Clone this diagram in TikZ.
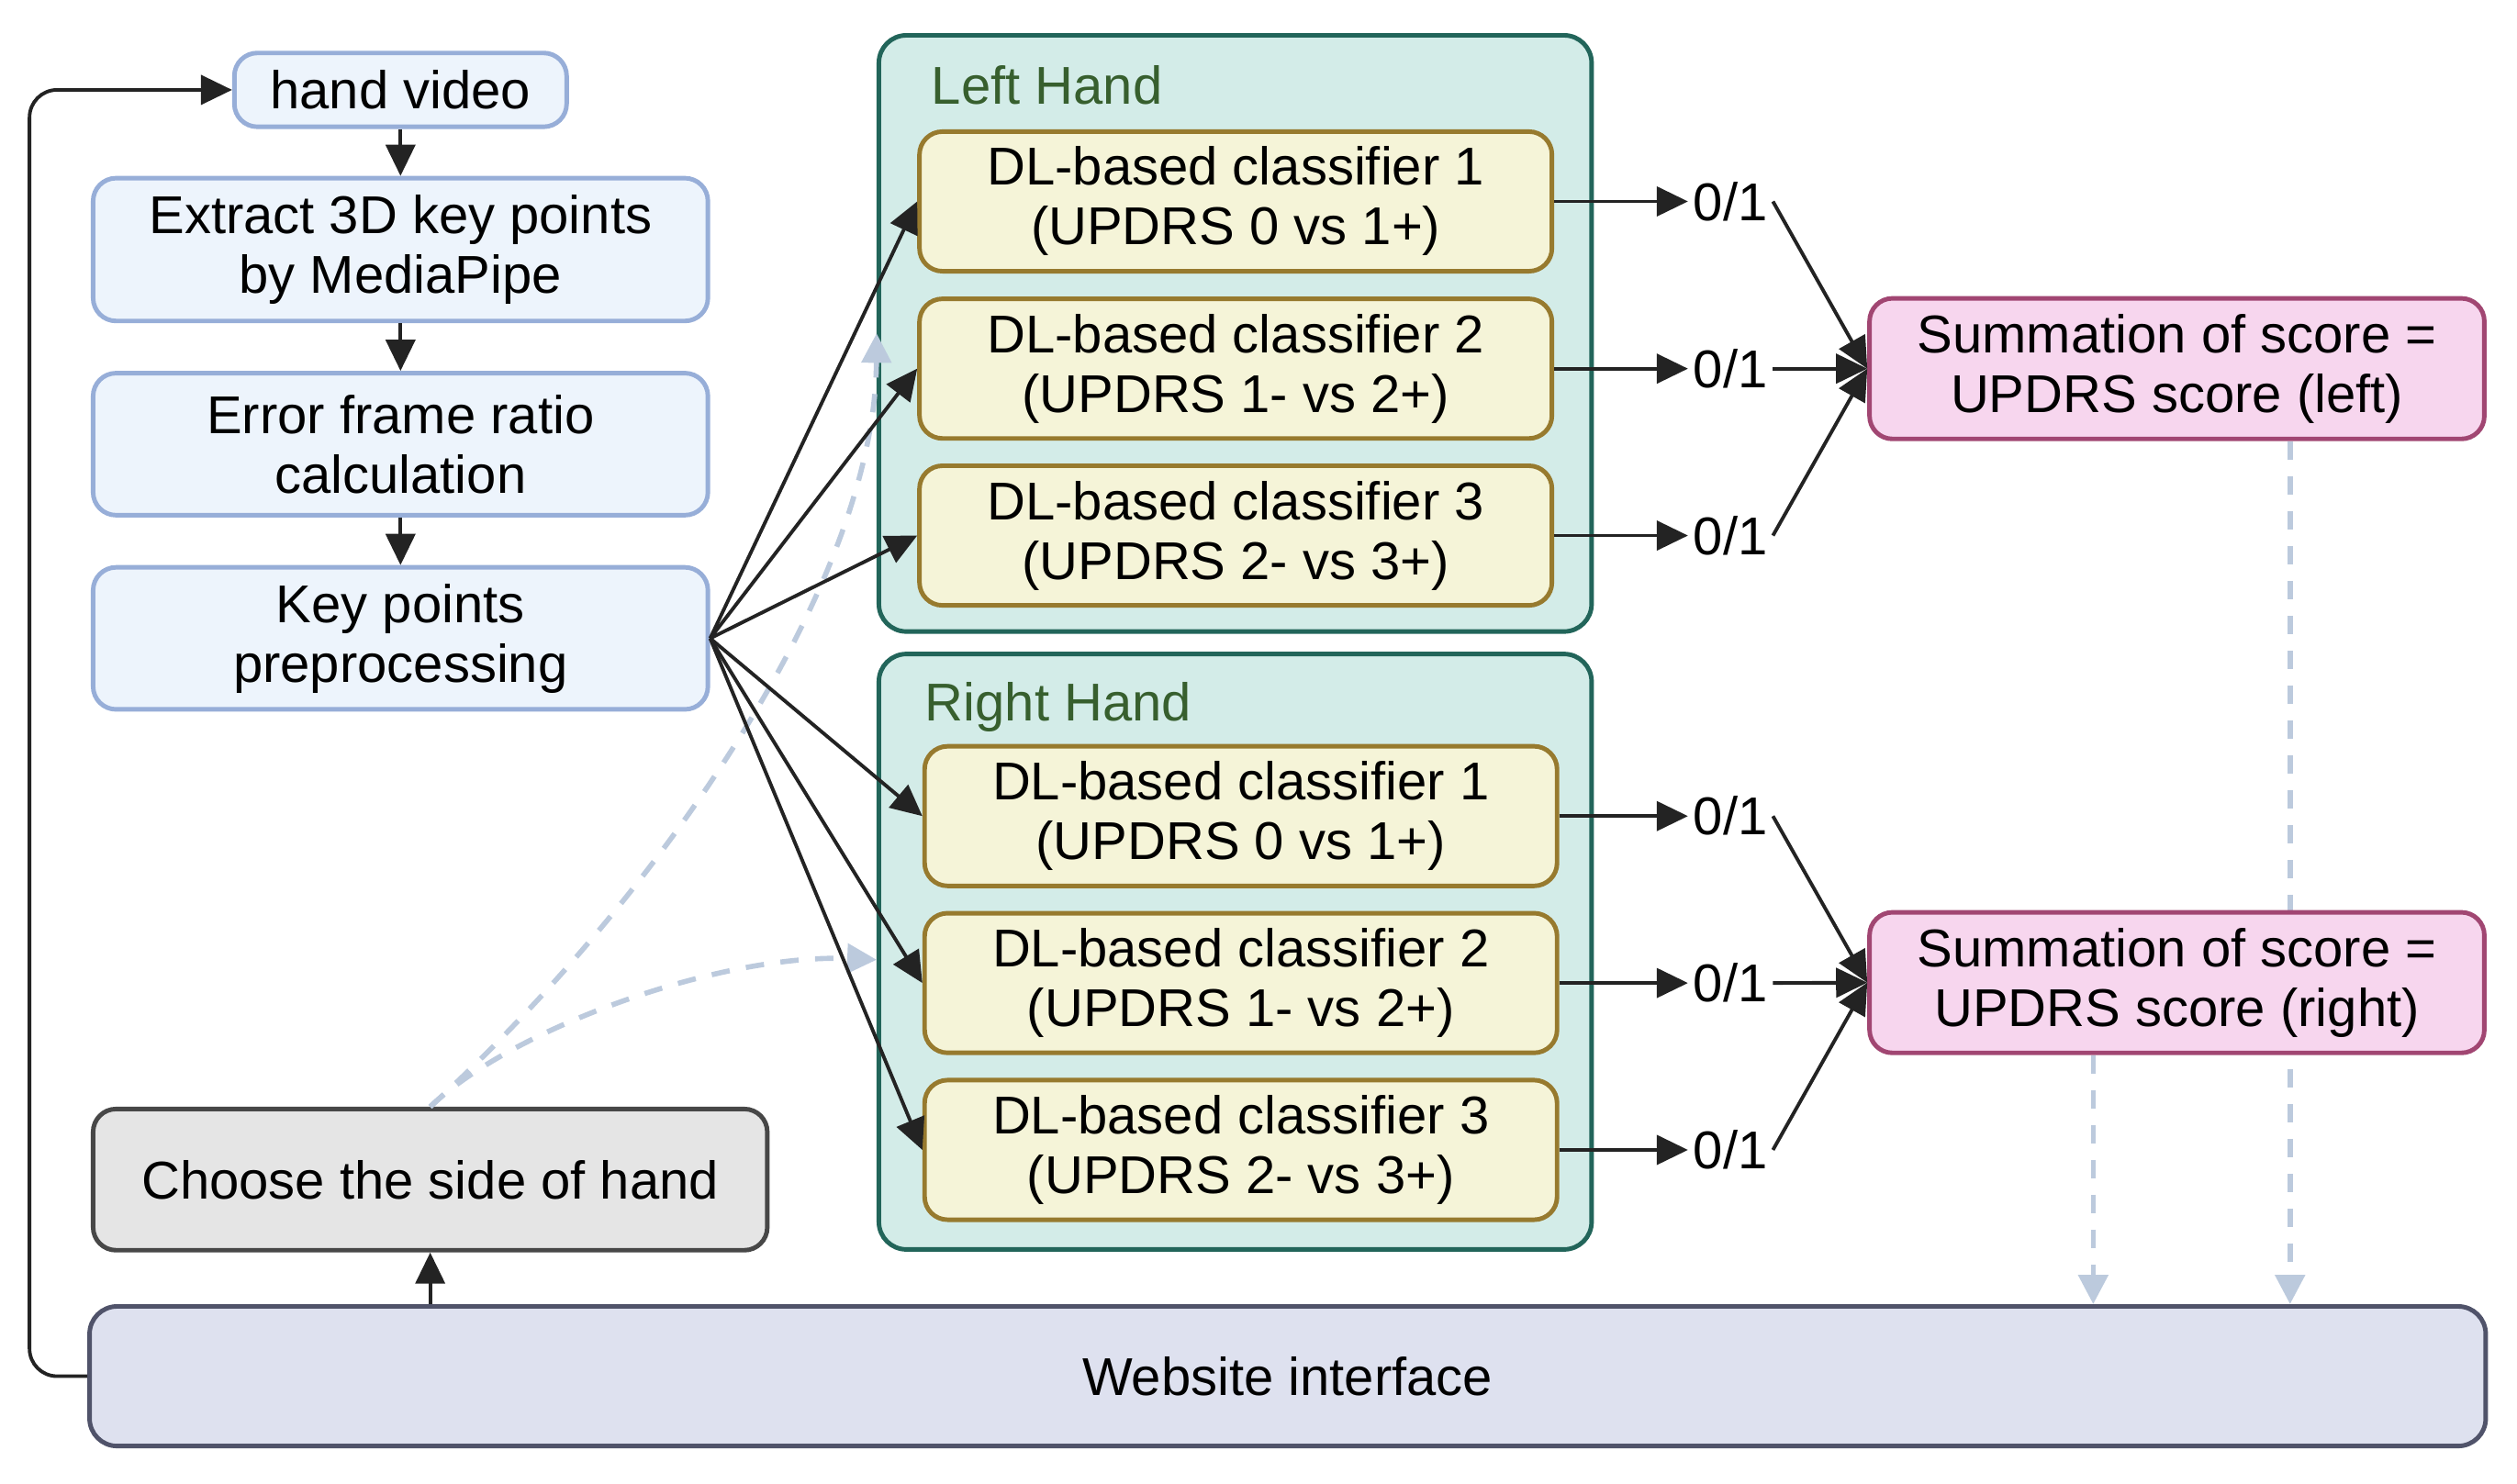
\documentclass[tikz,border=0pt]{standalone}
\usepackage{fontspec}
\setmainfont{Liberation Sans}
\usetikzlibrary{arrows.meta,calc}
\definecolor{blueF}{HTML}{EDF4FC}
\definecolor{blueB}{HTML}{97AED8}
\definecolor{contF}{HTML}{D3ECE8}
\definecolor{contB}{HTML}{22655A}
\definecolor{titleC}{HTML}{375F2E}
\definecolor{clsF}{HTML}{F5F4D8}
\definecolor{clsB}{HTML}{977A2E}
\definecolor{sumF}{HTML}{F7D6EE}
\definecolor{sumB}{HTML}{A14672}
\definecolor{chF}{HTML}{E5E5E5}
\definecolor{chB}{HTML}{474747}
\definecolor{webF}{HTML}{DEE1EF}
\definecolor{webB}{HTML}{50536A}
\definecolor{dashC}{HTML}{BCCADD}
\definecolor{arrC}{HTML}{232323}
\begin{document}
\begin{tikzpicture}[x=0.017487cm,y=-0.017487cm,
  every node/.style={font=\fontsize{16.5}{18.5}\selectfont},
  sz/.style 2 args={minimum width=#1*0.017487cm, minimum height=#2*0.017487cm},
  box/.style={rounded corners=0.25cm, line width=1.4pt, inner sep=0pt, align=center},
  bluebox/.style={box, draw=blueB, fill=blueF},
  contbox/.style={box, rounded corners=0.3cm, draw=contB, fill=contF},
  clsbox/.style={box, draw=clsB, fill=clsF, sz={394}{87}},
  sumbox/.style={box, draw=sumB, fill=sumF, sz={383}{87.6}},
  chbox/.style={box, draw=chB, fill=chF},
  webbox/.style={box, rounded corners=0.3cm, draw=webB, fill=webF},
  ttl/.style={text=titleC, inner sep=0pt, anchor=base west},
  zlab/.style={inner sep=1.5pt},
  arr/.style={draw=arrC, line width=1.1pt, -{Triangle[length=0.34cm,width=0.32cm]}},
  darr/.style={draw=dashC, line width=1.6pt, dash pattern=on 0.2cm off 0.18cm,
    -{Triangle[length=0.32cm,width=0.32cm,fill=dashC]}},
]
\useasboundingbox (0,0) rectangle (1568,924.1);

% left column
\node[bluebox, sz={207}{46}] (hv) at (249.5,56) {hand video};
\node[bluebox, sz={383}{89}] (ex) at (249.5,155.5) {Extract 3D key points\\by MediaPipe};
\node[bluebox, sz={383}{88.5}] (er) at (249.5,276.75) {Error frame ratio\\calculation};
\node[bluebox, sz={383}{88.5}] (kp) at (249.5,397.75) {Key points\\preprocessing};
\node[chbox, sz={420}{88}] (ch) at (268,735) {Choose the side of hand};
\node[webbox, sz={1492.7}{87}] (web) at (802.15,857.5) {Website interface};

% containers
\node[contbox, sz={444}{371.5}] (lh) at (769.5,207.75) {};
\node[contbox, sz={444}{371}] (rh) at (769.5,593) {};
\node[ttl] (lht) at (580,65) {Left Hand};
\node[ttl] (rht) at (576,449) {Right Hand};

% classifiers
\node[clsbox] (l1) at (769.8,125.5) {DL-based classifier 1\\(UPDRS 0 vs 1+)};
\node[clsbox] (l2) at (769.8,229.7) {DL-based classifier 2\\(UPDRS 1- vs 2+)};
\node[clsbox] (l3) at (769.8,333.7) {DL-based classifier 3\\(UPDRS 2- vs 3+)};
\node[clsbox] (r1) at (773,508.5) {DL-based classifier 1\\(UPDRS 0 vs 1+)};
\node[clsbox] (r2) at (773,612.5) {DL-based classifier 2\\(UPDRS 1- vs 2+)};
\node[clsbox] (r3) at (773,716.5) {DL-based classifier 3\\(UPDRS 2- vs 3+)};

% 0/1 labels
\coordinate (zx) at (1078,0);
\node[zlab] (z1) at (l1 -| zx) {0/1};
\node[zlab] (z2) at (l2 -| zx) {0/1};
\node[zlab] (z3) at (l3 -| zx) {0/1};
\node[zlab] (z4) at (r1 -| zx) {0/1};
\node[zlab] (z5) at (r2 -| zx) {0/1};
\node[zlab] (z6) at (r3 -| zx) {0/1};

% summation boxes and dashed links
\coordinate (dA) at (1426.6,0);
\coordinate (dB) at (1304,0);
\node[sumbox] (sl) at (1356.15,229.7) {Summation of score =\\UPDRS score (left)};
\draw[darr] (sl.south -| dA) -- (web.north -| dA);
\node[sumbox] (sr) at (1356.15,612.25) {Summation of score =\\UPDRS score (right)};
\draw[darr] (sr.south -| dB) -- (web.north -| dB);

% flow arrows
\draw[arr] (hv) -- (ex);
\draw[arr] (ex) -- (er);
\draw[arr] (er) -- (kp);
\draw[arr] (web.north -| ch.south) -- (ch.south);
\draw[arr, rounded corners=0.3cm] (web.west) -- ++(-36,0) |- (hv.west);

% dashed curves from choose
\draw[darr] (ch.north) .. controls (400,570) and (545,370) .. (lh.west);
\draw[darr] (ch.north) .. controls (320,640) and (450,594) .. ([yshift=-5*0.017487cm]rh.west);

% preprocessing to classifiers
\foreach \c in {l1,l2,l3,r1,r2,r3} \draw[arr] (kp.east) -- (\c.west);

% classifiers to 0/1
\draw[arr] (l1.east) -- (z1.west);
\draw[arr] (l2.east) -- (z2.west);
\draw[arr] (l3.east) -- (z3.west);
\draw[arr] (r1.east) -- (z4.west);
\draw[arr] (r2.east) -- (z5.west);
\draw[arr] (r3.east) -- (z6.west);

% 0/1 to summation
\foreach \z in {z1,z2,z3} \draw[arr] (\z.east) -- (sl.west);
\foreach \z in {z4,z5,z6} \draw[arr] (\z.east) -- (sr.west);
\end{tikzpicture}
\end{document}
